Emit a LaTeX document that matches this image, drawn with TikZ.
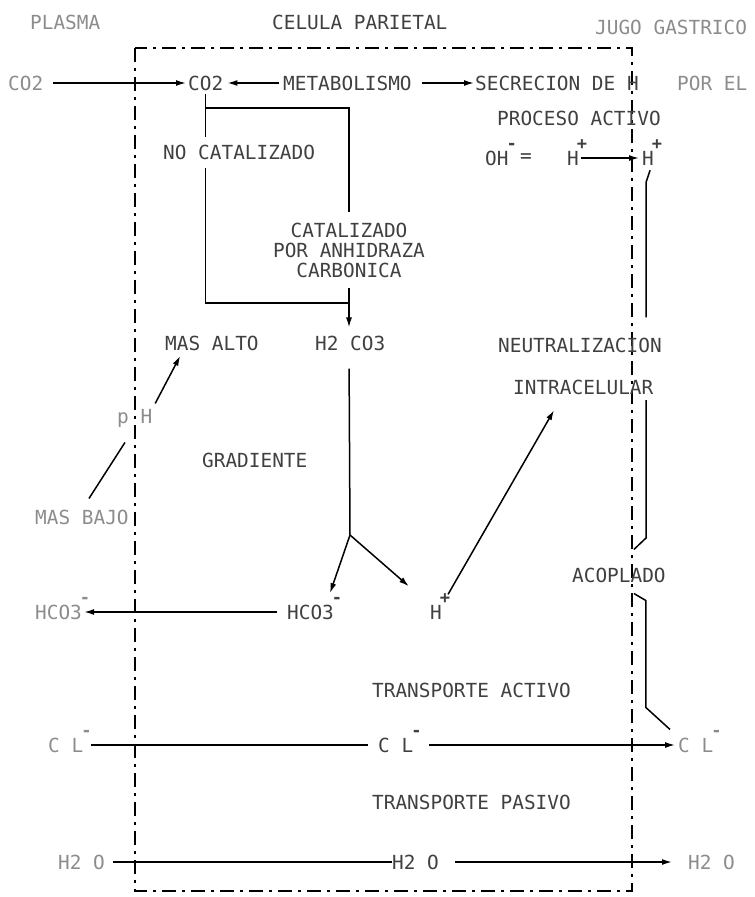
\documentclass[tikz,border=0pt]{standalone}
\usepackage{fontspec}
\newfontfamily\plotfont{DejaVu Sans Mono}
\usetikzlibrary{arrows.meta}
\newcommand{\charge}[1]{\rlap{\kern-0.1em\smash{\raisebox{0.8em}{\fontsize{17}{17}\selectfont\bfseries #1}}}}

\begin{document}
\begin{tikzpicture}[x=1pt,y=-1pt,
	lbl/.style={anchor=west,inner sep=0pt,text=black!75,font=\plotfont\fontsize{19.4}{20}\selectfont},
	faint/.style={lbl,text=black!45},
	conn/.style={line width=1.5pt},
	flow/.style={conn,-{Latex[length=10pt,width=6pt]}},
	membrane/.style={line width=1.3pt,dash pattern=on 14pt off 6pt on 3pt off 6pt}]
	\useasboundingbox (0,0) rectangle (755,897);
	% cell membrane
	\draw[membrane] (135,48) rectangle (632,891);
	\node[faint] (plasma) at (30,22) {PLASMA};
	\node[lbl] (celula) at (272,22) {CELULA PARIETAL};
	\node[faint] (jugo) at (595,27) {JUGO GASTRICO};
	% CO2 row
	\node[faint] (co2l) at (8,83) {CO2};
	\node[lbl] (co2) at (188,83) {CO2};
	\node[lbl] (metab) at (283,83) {METABOLISMO};
	\node[lbl] (secr) at (475,83) {SECRECION DE H};
	\node[faint] (porel) at (677,83) {POR EL};
	\node[lbl] (proc) at (497,118) {PROCESO ACTIVO};
	\node[lbl] (oh) at (485,158) {OH\charge{-}};
	\node[lbl] (eq) at (520,158) {=};
	\node[lbl] (hmid) at (567,158) {H\charge{+}};
	\node[lbl] (hright) at (642,158) {H\charge{+}};
	\draw[flow,shorten <=10pt,shorten >=2pt] (co2l) -- (co2);
	\draw[flow,shorten <=4pt,shorten >=4pt] (metab) -- (co2);
	\draw[flow,shorten <=10pt,shorten >=1pt] (metab) -- (secr);
	\draw[flow,shorten <=2pt,shorten >=3pt] (hmid) -- (hright);
	% carbonic acid
	\node[lbl] (nocat) at (163,152) {NO CATALIZADO};
	\node[lbl,anchor=center,align=center] (cat) at (349,250) {CATALIZADO\\POR ANHIDRAZA\\CARBONICA};
	\node[lbl] (h2co3) at (315,343) {H2 CO3};
	\coordinate (split) at (206,108);
	\coordinate (join) at (349,303);
	\coordinate (fork) at (350,535);
	\draw[conn] ([yshift=-3pt]co2.south) -- ([yshift=7pt]nocat.north -| co2.south);
	\draw[conn] ([yshift=-8pt]nocat.south -| co2.south) |- (join);
	\draw[conn] (split) -| ([yshift=10pt]cat.north);
	\draw[flow,shorten >=8pt] ([yshift=-10pt]cat.south) -- (cat |- h2co3.north);
	\draw[conn,shorten <=18pt] (cat |- h2co3.south) -- (fork);
	% pH gradient
	\node[lbl] (masalto) at (165,343) {MAS ALTO};
	\node[faint] (ph) at (117,418) {p H};
	\node[lbl] (gradiente) at (202,460) {GRADIENTE};
	\node[faint] (masbajo) at (35,517) {MAS BAJO};
	\draw[conn,shorten <=13pt,shorten >=18pt] (masbajo.north) -- (ph.south);
	\draw[flow,shorten <=6pt,shorten >=6pt] (ph.north east) -- ([xshift=18pt]masalto.south west);
	% bicarbonate and H+
	\node[faint] (hco3l) at (35,612) {HCO3\charge{-}};
	\node[lbl] (hco3) at (287,612) {HCO3\charge{-}};
	\node[lbl] (hplus) at (430,612) {H\charge{+}};
	\node[lbl] (neutral) at (498,345) {NEUTRALIZACION};
	\node[lbl] (intra) at (513,387) {INTRACELULAR};
	\draw[flow,shorten >=12pt] (fork) -- ([xshift=-8pt]hco3.north east);
	\draw[flow,shorten >=28pt] (fork) -- (hplus.north west);
	\draw[flow,shorten <=10pt,shorten >=2pt] (hco3) -- (hco3l);
	\draw[flow,shorten <=12pt,shorten >=18pt] (hplus.north east) -- ([xshift=50pt]intra.south west);
	% coupling
	\node[lbl] (acoplado) at (572,575) {ACOPLADO};
	\draw[conn] ([xshift=-4pt,yshift=-5pt]hright.south east) -- ++(-4,12) -- ++(0,135);
	\draw[conn] (646,400) -- (646,538) -- ([xshift=15pt,yshift=18pt]acoplado.north);
	% chloride and water
	\node[lbl] (tact) at (372,690) {TRANSPORTE ACTIVO};
	\node[faint] (cll) at (48,745) {C L\charge{-}};
	\node[lbl] (clm) at (378,745) {C L\charge{-}};
	\node[faint] (clr) at (678,745) {C L\charge{-}};
	\draw[conn] ([xshift=15pt,yshift=-11pt]acoplado.south) -- ++(12,7) -- ++(0,107) -- ([xshift=-8pt,yshift=8pt]clr.north west);
	\draw[conn,shorten <=8pt,shorten >=10pt] (cll) -- (clm);
	\draw[flow,shorten <=16pt,shorten >=3pt] (clm) -- (clr);
	\node[lbl] (tpas) at (372,802) {TRANSPORTE PASIVO};
	\node[faint] (h2ol) at (58,862) {H2 O};
	\node[lbl] (h2om) at (392,862) {H2 O};
	\node[faint] (h2or) at (688,862) {H2 O};
	\draw[conn,shorten <=8pt] (h2ol) -- (h2om);
	\draw[flow,shorten <=16pt,shorten >=16pt] (h2om) -- (h2or);
\end{tikzpicture}
\end{document}
